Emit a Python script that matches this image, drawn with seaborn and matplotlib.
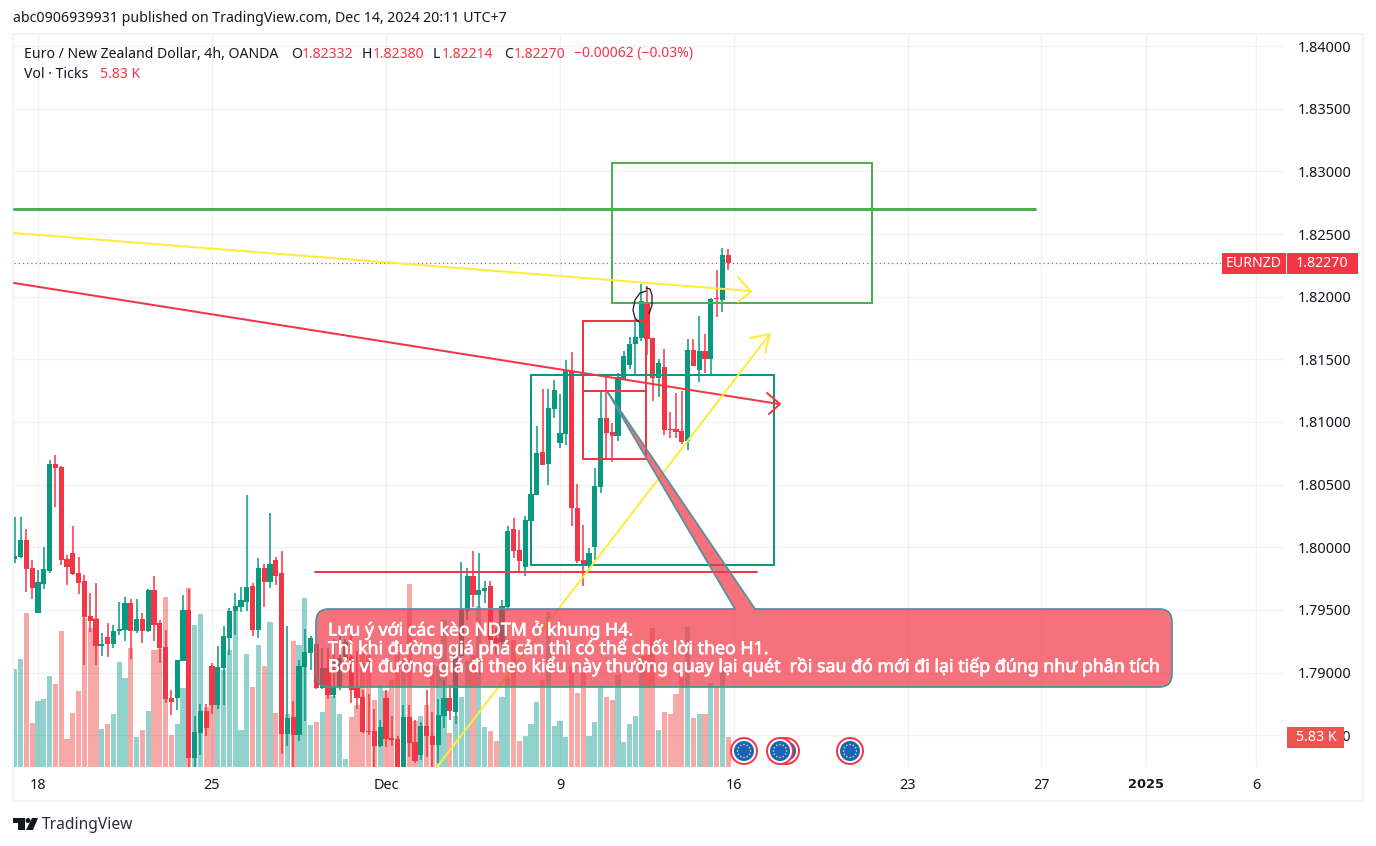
"""
EUR/NZD 4h candles with volume and hand drawn levels, TradingView snapshot style
"""

import numpy as np
import pandas as pd
import matplotlib
matplotlib.use("Agg")
import matplotlib.pyplot as plt
import matplotlib.patheffects as pe
import seaborn as sns
from matplotlib.lines import Line2D
from matplotlib.patches import Circle, PathPatch, Polygon, Rectangle
from matplotlib.path import Path
from matplotlib.transforms import Affine2D

# -----------------------------
# DATA
# -----------------------------
opens = [
    1.7991, 1.79923, 1.80059, 1.79835, 1.79479, 1.7971, 1.79814, 1.80665, 1.80641, 1.79907,
    1.79955, 1.79795, 1.79731, 1.79452, 1.79431, 1.79215, 1.79284, 1.79231, 1.79335, 1.79343,
    1.79556, 1.79335, 1.79428, 1.79335, 1.7966, 1.79396, 1.79205, 1.78798, 1.788, 1.79096,
    1.795, 1.78322, 1.78521, 1.78694, 1.79053, 1.78742, 1.7904, 1.79279, 1.79492, 1.79524,
    1.79566, 1.79691, 1.79343, 1.79835, 1.79726, 1.79899, 1.79795, 1.78513, 1.78646, 1.78505,
    1.79048, 1.79159, 1.79229, 1.7888, 1.79037, 1.78824, 1.78896, 1.79109, 1.79125, 1.78877,
    1.78806, 1.78534, 1.78534, 1.78417, 1.78798, 1.78478, 1.7847, 1.7823, 1.78646, 1.78447,
    1.78345, 1.78574, 1.78494, 1.78425, 1.78657, 1.78798, 1.78689, 1.79135, 1.79495, 1.79771,
    1.7962, 1.79654, 1.79691, 1.79279, 1.79247, 1.79527, 1.80146, 1.79979, 1.79846, 1.8021,
    1.8042, 1.80761, 1.80668, 1.81104, 1.80833, 1.80904, 1.81407, 1.80314, 1.79899, 1.79851,
    1.80005, 1.80484, 1.81032, 1.8092, 1.80888, 1.81346, 1.81458, 1.81625, 1.81673, 1.8196,
    1.81673, 1.81354, 1.81442, 1.80947, 1.80947, 1.80931, 1.80851, 1.81577, 1.81418, 1.81569,
    1.81505, 1.8199, 1.81976, 1.82332,
]
highs = [
    1.80239, 1.80239, 1.80144, 1.79899, 1.79819, 1.8, 1.80697, 1.80737, 1.80649, 1.79936,
    1.80168, 1.79923, 1.79779, 1.79636, 1.79715, 1.79316, 1.79396, 1.7938, 1.79564, 1.79604,
    1.79588, 1.79588, 1.79476, 1.79667, 1.79771, 1.7942, 1.7934, 1.78862, 1.79101, 1.7962,
    1.79667, 1.78654, 1.7875, 1.7875, 1.79077, 1.79213, 1.79372, 1.79516, 1.79636, 1.79683,
    1.80418, 1.79713, 1.79915, 1.79867, 1.80274, 1.79923, 1.79971, 1.79372, 1.78774, 1.79101,
    1.79348, 1.79292, 1.79229, 1.79197, 1.79197, 1.79268, 1.79348, 1.79268, 1.79308, 1.79173,
    1.78862, 1.7883, 1.7871, 1.78622, 1.78862, 1.78654, 1.78494, 1.78742, 1.78742, 1.78622,
    1.78606, 1.78862, 1.78686, 1.7879, 1.78941, 1.78901, 1.79197, 1.79883, 1.79835, 1.79971,
    1.79955, 1.79729, 1.79731, 1.79356, 1.7958, 1.80168, 1.80234, 1.80138, 1.8025, 1.80426,
    1.80968, 1.81264, 1.81264, 1.81335, 1.81224, 1.81495, 1.81559, 1.80505, 1.80178, 1.79995,
    1.80633, 1.81256, 1.81362, 1.80992, 1.81389, 1.81569, 1.81681, 1.81822, 1.82104, 1.82083,
    1.81673, 1.81505, 1.81585, 1.81082, 1.81234, 1.8125, 1.81665, 1.81665, 1.81849, 1.81705,
    1.81992, 1.82216, 1.82391, 1.8238,
]
lows = [
    1.79878, 1.79918, 1.79646, 1.7959, 1.79479, 1.7967, 1.79798, 1.80325, 1.79862, 1.79702,
    1.79782, 1.7963, 1.79064, 1.79327, 1.79064, 1.79135, 1.79128, 1.79199, 1.79303, 1.79255,
    1.79112, 1.79319, 1.79239, 1.79327, 1.79255, 1.7908, 1.7876, 1.78665, 1.78705, 1.79096,
    1.78236, 1.78236, 1.78345, 1.78497, 1.78673, 1.78713, 1.78742, 1.79143, 1.79303, 1.79487,
    1.79492, 1.79295, 1.79279, 1.79527, 1.79678, 1.79699, 1.78353, 1.78417, 1.78236, 1.78457,
    1.78617, 1.79021, 1.78872, 1.78872, 1.78792, 1.788, 1.78862, 1.79101, 1.7876, 1.78713,
    1.78521, 1.78502, 1.78236, 1.78409, 1.78409, 1.78417, 1.7823, 1.7823, 1.7833, 1.78276,
    1.78303, 1.7833, 1.7823, 1.78276, 1.78561, 1.78622, 1.78593, 1.79128, 1.7942, 1.79527,
    1.795, 1.79553, 1.79221, 1.79141, 1.79205, 1.79492, 1.79915, 1.79806, 1.79771, 1.8021,
    1.8042, 1.80657, 1.80497, 1.81032, 1.80793, 1.80817, 1.80173, 1.79878, 1.79691, 1.79819,
    1.79899, 1.80434, 1.80702, 1.80684, 1.80849, 1.81343, 1.81426, 1.81378, 1.81649, 1.81537,
    1.8117, 1.81202, 1.80899, 1.80875, 1.80875, 1.80827, 1.80779, 1.81444, 1.81322, 1.81394,
    1.81378, 1.81841, 1.8188, 1.82214,
]
closes = [
    1.79931, 1.80059, 1.7983, 1.79678, 1.79723, 1.79827, 1.80665, 1.80636, 1.79902, 1.79846,
    1.7979, 1.79718, 1.79447, 1.79415, 1.79215, 1.79229, 1.79231, 1.79332, 1.79348, 1.79556,
    1.79335, 1.79428, 1.79335, 1.7966, 1.79383, 1.79199, 1.78792, 1.78768, 1.79101, 1.795,
    1.78322, 1.78526, 1.78694, 1.78561, 1.78742, 1.79045, 1.79292, 1.79492, 1.79532, 1.7958,
    1.79683, 1.79343, 1.79835, 1.79726, 1.79867, 1.79774, 1.78513, 1.78638, 1.78505, 1.79053,
    1.79165, 1.79276, 1.7888, 1.79037, 1.78824, 1.78893, 1.79117, 1.79245, 1.78864, 1.788,
    1.78529, 1.78526, 1.78417, 1.78566, 1.78473, 1.78465, 1.7823, 1.78646, 1.78441, 1.78298,
    1.78574, 1.78494, 1.78425, 1.78662, 1.78798, 1.78694, 1.79141, 1.795, 1.79771, 1.7962,
    1.7966, 1.79675, 1.7926, 1.79239, 1.79532, 1.8013, 1.79973, 1.79894, 1.80218, 1.80426,
    1.80753, 1.8066, 1.81112, 1.81256, 1.80912, 1.81415, 1.80317, 1.79894, 1.79854, 1.79955,
    1.80489, 1.81032, 1.80912, 1.80888, 1.81359, 1.81529, 1.81625, 1.81681, 1.81968, 1.81665,
    1.81354, 1.81473, 1.80939, 1.80939, 1.80923, 1.80843, 1.81577, 1.8145, 1.81569, 1.81505,
    1.81984, 1.81984, 1.82335, 1.8227,
]
volumes = [
    19.0, 21.0, 29.9, 8.5, 12.8, 13.2, 17.7, 16.1, 26.4, 5.4,
    10.5, 14.8, 28.9, 27.0, 28.9, 7.4, 8.3, 10.3, 20.4, 17.3,
    23.1, 5.8, 7.2, 10.9, 22.7, 22.9, 33.0, 6.2, 8.3, 15.3,
    34.7, 27.6, 29.7, 11.7, 12.0, 12.0, 18.8, 22.7, 30.3, 7.2,
    21.9, 15.5, 23.7, 19.6, 28.1, 10.5, 10.4, 10.3, 24.5, 23.7,
    32.8, 8.2, 8.7, 10.7, 16.9, 13.7, 10.3, 1.6, 9.7, 12.0,
    22.1, 22.4, 13.0, 15.9, 14.8, 16.9, 22.4, 20.8, 35.5, 8.9,
    9.9, 12.0, 19.8, 19.5, 28.5, 6.5, 9.8, 13.6, 20.6, 21.7,
    31.3, 7.8, 7.0, 5.0, 13.6, 17.4, 24.7, 5.0, 6.0, 8.3,
    12.6, 16.9, 30.1, 8.0, 8.9, 5.8, 19.6, 14.4, 18.2, 6.0,
    8.7, 15.7, 13.6, 13.0, 17.9, 4.9, 8.3, 9.9, 21.5, 21.7,
    27.0, 7.2, 10.7, 10.3, 14.2, 17.9, 27.2, 9.5, 10.3, 10.3,
    16.3, 15.6, 19.0, 5.83,
]

price_ticks = [1.785, 1.79, 1.795, 1.80, 1.805, 1.81, 1.815, 1.82, 1.825, 1.83, 1.835, 1.84]
date_ticks = [4, 34, 64, 94, 124, 154, 177, 195, 214]
date_labels = ["18", "25", "Dec", "9", "16", "23", "27", "2025", "6"]

note_lines = [
    "Lưu ý với các kèo NDTM ở khung H4.",
    "Thì khi đường giá phá cản thì có thể chốt lời theo H1.",
    "Bởi vì đường giá đi theo kiểu này thường quay lại quét  rồi sau đó mới đi lại tiếp đúng như phân tích",
]

# -----------------------------
# STYLE
# -----------------------------
W, H = 1376, 846
GREEN = "#089981"
RED = "#F23645"
LINE_GREEN = "#4CAF50"
YELLOW = "#FFEB3B"
TEXT = "#131722"

sns.set_theme(style="white")
plt.rcParams["font.family"] = ["Noto Sans", "DejaVu Sans"]

fig = plt.figure(figsize=(W / 100, H / 100), dpi=100, facecolor="white")
px = Affine2D().scale(1 / W, -1 / H).translate(0, 1) + fig.transFigure

LEFT, RIGHT, TOP, BOTTOM = 14, 1285, 35, 767
rect = [LEFT / W, 1 - BOTTOM / H, (RIGHT - LEFT) / W, (BOTTOM - TOP) / H]
ax = fig.add_axes(rect)
axv = ax.twinx()
ax.set_zorder(2)
axv.set_zorder(1)
ax.patch.set_visible(False)

# -----------------------------
# VOLUME
# -----------------------------
idx = np.arange(len(closes))
o = np.array(opens)
c = np.array(closes)
up = c >= o

vol = pd.DataFrame({"idx": idx, "vol": volumes})
sns.barplot(
    data=vol, x="idx", y="vol", color="#92D2CC",
    native_scale=True, width=0.93, saturation=1,
    linewidth=0, errorbar=None, ax=axv,
)
for bar, is_up in zip(axv.patches, up):
    bar.set_facecolor("#92D2CC" if is_up else "#F7A9A7")
axv.set_ylim(0, (BOTTOM - TOP) * 0.194)
axv.set_xlabel("")
axv.set_ylabel("")
axv.set_yticks([])

# -----------------------------
# CANDLES
# -----------------------------
colors = np.where(up, GREEN, RED)
ax.vlines(idx, lows, highs, colors=colors, linewidth=1.1, zorder=3)
ax.bar(idx, np.maximum(np.abs(c - o), 0.00003), bottom=np.minimum(o, c), width=0.93,
       color=colors, linewidth=0, zorder=4)

ax.set_xlim((LEFT - 14.8) / 5.8, (RIGHT - 14.8) / 5.8)
ax.set_ylim(1.78247, 1.84088)
ax.yaxis.tick_right()
ax.set_yticks(price_ticks)
ax.set_yticklabels([f"{p:.5f}" for p in price_ticks])
ax.set_xticks(date_ticks)
ax.set_xticklabels(date_labels)
ax.tick_params(axis="both", length=0, labelsize=10.4, labelcolor=TEXT)
ax.tick_params(axis="x", pad=8)
ax.tick_params(axis="y", pad=9)
ax.grid(True, color="#2A2E39", alpha=0.06, linewidth=1)
ax.set_axisbelow(True)
for spine in list(ax.spines.values()) + list(axv.spines.values()):
    spine.set_visible(False)
bold_tick = ax.get_xticklabels()[date_labels.index("2025")]
bold_tick.set_fontfamily("DejaVu Sans")
bold_tick.set_fontweight("bold")
bold_tick.set_fontsize(9.4)


# -----------------------------
# DRAWINGS (figure pixels, y down)
# -----------------------------
def line(xs, ys, color, lw=1.5, z=5, **kw):
    fig.add_artist(Line2D(xs, ys, color=color, linewidth=lw * 0.72, transform=px, zorder=z, **kw))


def box(x0, y0, x1, y1, color, lw=2):
    fig.add_artist(Rectangle((x0, y0), x1 - x0, y1 - y0, fill=False, edgecolor=color,
                             linewidth=lw * 0.72, transform=px, zorder=5))


# panel border
fig.add_artist(Rectangle((13, 34), 1350, 767, fill=False, edgecolor="#F0F3FA", linewidth=1.5,
                         transform=px, zorder=1))

line([14, 1222], [263.5, 263.5], RED, lw=1.2, linestyle=(0, (1, 2.5)))
line([14, 1035], [209, 209], LINE_GREEN, lw=3)
box(612, 163, 872, 303, LINE_GREEN)
box(531, 375, 774, 565, GREEN)
box(583, 321, 646, 459, RED)
line([583, 646], [391, 391], RED, lw=2)
line([315, 757], [572, 572], RED, lw=2)

# yellow and red arrows
line([14, 750], [233, 291], YELLOW, lw=2)
line([738, 751, 738], [277, 291.5, 302], YELLOW, lw=2)
line([14, 779], [283, 404], RED, lw=2)
line([767, 780, 769], [393, 404, 414], RED, lw=2)
line([437, 769], [767, 335], YELLOW, lw=2)
line([750, 770, 765], [338, 334, 353], YELLOW, lw=2)

# scribble around the high
line([646, 650, 652, 652, 649], [288, 289, 295, 305, 314], "#1E1E1E", lw=1.3)
line([646, 640, 635, 633, 635, 639], [291, 293, 300, 310, 318, 322], "#1E1E1E", lw=1.3)

# callout
cx0, cy0, cx1, cy1, r = 316, 609, 1172, 687, 13
verts = [
    (cx0 + r, cy0), (735, cy0), (607, 391), (755, cy0), (cx1 - r, cy0), (cx1, cy0), (cx1, cy0 + r),
    (cx1, cy1 - r), (cx1, cy1), (cx1 - r, cy1), (cx0 + r, cy1), (cx0, cy1), (cx0, cy1 - r),
    (cx0, cy0 + r), (cx0, cy0), (cx0 + r, cy0),
]
codes = [
    Path.MOVETO, Path.LINETO, Path.LINETO, Path.LINETO, Path.LINETO, Path.CURVE3, Path.CURVE3,
    Path.LINETO, Path.CURVE3, Path.CURVE3, Path.LINETO, Path.CURVE3, Path.CURVE3,
    Path.LINETO, Path.CURVE3, Path.CURVE3,
]
fig.add_artist(PathPatch(Path(verts, codes), facecolor=(242 / 255, 54 / 255, 69 / 255, 0.7),
                         edgecolor="#55929C", linewidth=1.3, transform=px, zorder=6))
for line_text, y in zip(note_lines, [630, 648, 666]):
    t = fig.text(328, y, line_text, color="white", fontsize=12.8,
                 ha="left", va="center", transform=px, zorder=7)
    t.set_path_effects([pe.withStroke(linewidth=0.5, foreground="white")])

# right scale labels
for x0, x1, label in [(1222, 1286, "EURNZD"), (1287, 1358, "1.82270")]:
    fig.add_artist(Rectangle((x0, 253), x1 - x0, 21, facecolor=RED, edgecolor="none",
                             transform=px, zorder=8))
    fig.text((x0 + x1) / 2, 263.5, label, color="white", fontsize=10.2, ha="center", va="center",
             transform=px, zorder=9)
fig.add_artist(Rectangle((1287, 727), 57, 21, facecolor="#EF5350", edgecolor="none",
                         transform=px, zorder=8))
fig.text(1316, 737.5, "5.83 K", color="white", fontsize=10.2, ha="center", va="center",
         transform=px, zorder=9)

# EU event badges
for ex in [786, 744, 780, 850]:
    fig.add_artist(Circle((ex, 751), 14, facecolor=RED, edgecolor="none", transform=px, zorder=5))
    fig.add_artist(Circle((ex, 751), 12, facecolor="white", edgecolor="none", transform=px, zorder=5))
    fig.add_artist(Circle((ex, 751), 10, facecolor="#1565C0", edgecolor="none", transform=px, zorder=5))
    for a in np.arange(12) * np.pi / 6:
        fig.add_artist(Circle((ex + 6.5 * np.cos(a), 751 + 6.5 * np.sin(a)), 0.8, facecolor="#FFD54F",
                              edgecolor="none", transform=px, zorder=5))

# -----------------------------
# HEADER / FOOTER TEXT
# -----------------------------
fig.text(13, 18, "abc0906939931 published on TradingView.com, Dec 14, 2024 20:11 UTC+7",
         color=TEXT, fontsize=10.2, ha="left", va="center", transform=px)

legend_parts = [
    (24, "Euro / New Zealand Dollar, 4h, OANDA", TEXT),
    (291, "O", TEXT), (302, "1.82332", RED),
    (362, "H", TEXT), (373, "1.82380", RED),
    (433, "L", TEXT), (442, "1.82214", RED),
    (504, "C", TEXT), (514, "1.82270", RED),
    (574, "\u22120.00062 (\u22120.03%)", RED),
]
for x, s, col in legend_parts:
    fig.text(x, 54, s, color=col, fontsize=10.1, ha="left", va="center", transform=px, zorder=7)
fig.text(24, 75, "Vol \u00b7 Ticks", color=TEXT, fontsize=10.1, ha="left", va="center", transform=px, zorder=7)
fig.text(100, 75, "5.83 K", color=RED, fontsize=10.1, ha="left", va="center", transform=px, zorder=7)

# TradingView logo + name
fig.add_artist(Polygon([(13, 818), (25, 818), (25, 830), (18, 830), (18, 823), (13, 823)],
                       facecolor=TEXT, edgecolor="none", transform=px))
fig.add_artist(Circle((28, 820.5), 2.5, facecolor=TEXT, edgecolor="none", transform=px))
fig.add_artist(Polygon([(32, 818), (38, 818), (33, 830), (26, 830)],
                       facecolor=TEXT, edgecolor="none", transform=px))
fig.text(42, 825, "TradingView", color="#2A2E39", fontsize=11.2,
         ha="left", va="center", transform=px)

plt.savefig("out.png", dpi=100)
plt.close()
